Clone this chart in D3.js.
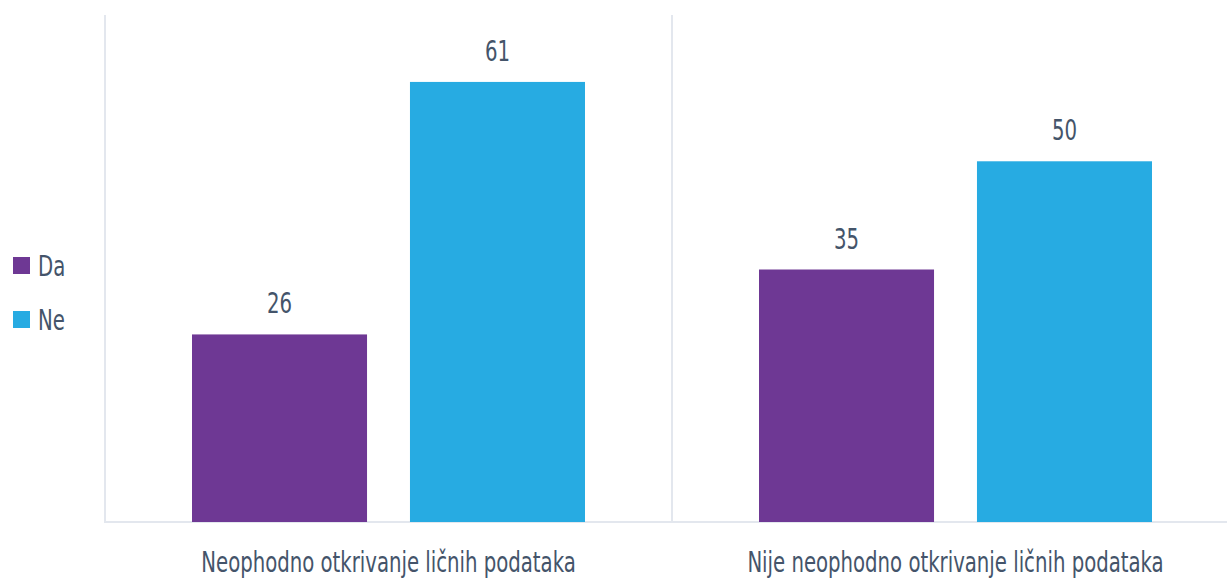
<!DOCTYPE html>
<html>
<head>
<meta charset="utf-8">
<script src="https://cdn.jsdelivr.net/npm/d3@7"></script>
<style>
  body { margin: 0; background: #fff; }
  text { font-family: "DejaVu Sans Condensed", "Liberation Sans Narrow", sans-serif; fill: #44546a; }
</style>
</head>
<body>
<div id="chart"></div>
<script>
// data
const categories = ["Neophodno otkrivanje ličnih podataka", "Nije neophodno otkrivanje ličnih podataka"];
const seriesNames = ["Da", "Ne"];
const seriesColors = ["#6e3894", "#27abe2"];
const valuesDa = [26, 35];
const valuesNe = [61, 50];

const WIDTH = 1227, HEIGHT = 579;
const PAD = {left: 105, top: 17, bottom: 57};
const bandW = 567;
const SQUEEZE = 0.755; // horizontal condense factor for the text face

const svg = d3.select("#chart").append("svg")
  .attr("width", WIDTH).attr("height", HEIGHT);

const x = d3.scaleBand()
  .domain(categories)
  .range([PAD.left, PAD.left + bandW * categories.length])
  .paddingInner(0).paddingOuter(0);

const xs = d3.scaleBand()
  .domain(seriesNames)
  .range([87, bandW - 87])
  .paddingInner(0.197);

const y = d3.scaleLinear()
  .domain([0, 70])
  .range([HEIGHT - PAD.bottom, PAD.top]);

const base = y(0);
const gridCol = "#e3e7ee";

// place a text at (fx, fy) and squeeze it horizontally
function placeSqueezed(sel, fx, fy) {
  sel.attr("x", 0).attr("y", 0)
    .attr("transform", (d, i) => `translate(${fx(d, i)},${fy(d, i)}) scale(${SQUEEZE},1)`);
}

// frame lines
svg.append("line")
  .attr("x1", PAD.left).attr("x2", PAD.left)
  .attr("y1", y(70) - 2).attr("y2", base)
  .attr("stroke", gridCol).attr("stroke-width", 2);
svg.append("line")
  .attr("x1", PAD.left - 1).attr("x2", WIDTH)
  .attr("y1", base).attr("y2", base)
  .attr("stroke", gridCol).attr("stroke-width", 2);
// separator between categories
svg.selectAll("line.sep")
  .data(categories.slice(1))
  .enter().append("line")
  .attr("class", "sep")
  .attr("x1", d => x(d)).attr("x2", d => x(d))
  .attr("y1", y(70) - 2).attr("y2", base)
  .attr("stroke", gridCol).attr("stroke-width", 2);

const rows = [];
categories.forEach((c, i) => {
  rows.push({cat: c, s: "Da", v: valuesDa[i], col: seriesColors[0]});
  rows.push({cat: c, s: "Ne", v: valuesNe[i], col: seriesColors[1]});
});

svg.selectAll("rect.bar")
  .data(rows)
  .enter().append("rect")
  .attr("class", "bar")
  .attr("x", d => x(d.cat) + xs(d.s))
  .attr("width", xs.bandwidth())
  .attr("y", d => y(d.v))
  .attr("height", d => base - y(d.v))
  .attr("fill", d => d.col);

svg.selectAll("text.val")
  .data(rows)
  .enter().append("text")
  .attr("class", "val")
  .attr("text-anchor", "middle")
  .style("font-size", "29px")
  .text(d => d.v)
  .call(placeSqueezed, d => x(d.cat) + xs(d.s) + xs.bandwidth() / 2, d => y(d.v) - 21);

svg.selectAll("text.cat")
  .data(categories)
  .enter().append("text")
  .attr("class", "cat")
  .attr("text-anchor", "middle")
  .style("font-size", "29px")
  .text(d => d)
  .call(placeSqueezed, d => x(d) + bandW / 2, () => 572);

// legend
const leg = svg.append("g").attr("transform", "translate(13,257)");
const li = leg.selectAll("g").data(seriesNames).enter().append("g")
  .attr("transform", (d, i) => `translate(0,${i * 54})`);
li.append("rect").attr("width", 17).attr("height", 17)
  .attr("fill", (d, i) => seriesColors[i]);
li.append("text")
  .style("font-size", "29px")
  .text(d => d)
  .call(placeSqueezed, () => 25, () => 19);
</script>
</body>
</html>
